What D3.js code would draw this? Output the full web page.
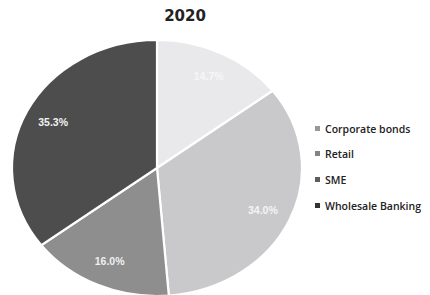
<!DOCTYPE html>
<html><head><meta charset="utf-8">
<script src="https://cdn.jsdelivr.net/npm/d3@7"></script>
<style>body{margin:0;background:#fff}svg{display:block}</style>
</head><body>
<script>
const title = "2020";
const categories = ["Corporate bonds", "Retail", "SME", "Wholesale Banking"];
const values = [14.7, 34.0, 16.0, 35.3];
const labels = ["14.7%", "34.0%", "16.0%", "35.3%"];
const colors = ["#e9e9ec", "#c9c9cc", "#8e8e8e", "#4d4d4d"];
const labelColors = ["#f6f6f6", "#f4f4f4", "#f0f0f0", "#f2f2f2"];

const W = 430, H = 295;
const svg = d3.select("body").append("svg").attr("width", W).attr("height", H);

const cx = 157, cy = 168, ry = 128, rx = 145, sx = rx / ry;

svg.append("text").attr("x", 185).attr("y", 21).attr("text-anchor", "middle")
  .attr("font-family", "DejaVu Sans, sans-serif").attr("font-weight", "bold")
  .attr("font-size", 15).attr("fill", "#222").text(title);

const pie = d3.pie().sort(null).value(d => d)(values);
const arc = d3.arc().innerRadius(0).outerRadius(ry);
const labelArc = d3.arc().innerRadius(ry * 0.8).outerRadius(ry * 0.8);

const g = svg.append("g").attr("transform", `translate(${cx},${cy}) scale(${sx},1)`);
g.selectAll("path").data(pie).join("path")
  .attr("d", arc).attr("fill", (d, i) => colors[i])
  .attr("stroke", "#fff").attr("stroke-width", 2.2).attr("vector-effect", "non-scaling-stroke");

svg.selectAll("text.lbl").data(pie).join("text").attr("class", "lbl")
  .attr("x", d => cx + labelArc.centroid(d)[0] * sx)
  .attr("y", d => cy + labelArc.centroid(d)[1] + 4)
  .attr("text-anchor", "middle")
  .attr("font-family", "Liberation Sans, Arial, sans-serif").attr("font-size", 10.5)
  .attr("font-weight", "bold")
  .attr("fill", (d, i) => labelColors[i]).text((d, i) => labels[i]);

const lg = svg.append("g").attr("transform", "translate(315,0)");
const ly = [129, 154, 180, 206];
categories.forEach((c, i) => {
  lg.append("rect").attr("x", 0).attr("y", ly[i] - 3).attr("width", 5).attr("height", 5)
    .attr("fill", d3.color(colors[i]).darker(1.2));
  lg.append("text").attr("x", 10).attr("y", ly[i] + 4)
    .attr("font-family", "Open Sans, sans-serif").attr("font-size", 10.5).attr("font-weight", 600)
    .attr("fill", "#222").text(c);
});
</script>
</body></html>
